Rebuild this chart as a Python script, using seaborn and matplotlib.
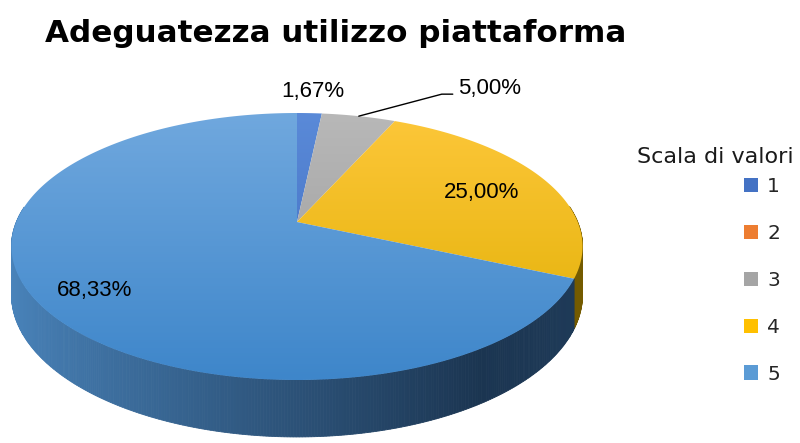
import numpy as np
import matplotlib
matplotlib.use("Agg")
import matplotlib.pyplot as plt
from matplotlib.patches import Polygon, Patch
from matplotlib.colors import LinearSegmentedColormap, to_rgb
import seaborn as sns

# ---------------- data ----------------
title = "Adeguatezza utilizzo piattaforma"
legend_title = "Scala di valori"
categories = ["1", "2", "3", "4", "5"]
percentages = [1.67, 0.00, 5.00, 25.00, 68.33]
base_colors = ["#4472C4", "#ED7D31", "#A5A5A5", "#FFC000", "#5B9BD5"]
top_colors = ["#5a8ad8", "#f28c48", "#b8b8b8", "#fdc73a", "#70a8de"]
bottom_colors = ["#3c68bc", "#d86a20", "#979797", "#dfae00", "#3e86ca"]
side_light = ["#3a5fa8", "#c86020", "#8a8a8a", "#c89a00", "#4a85bd"]
side_dark = ["#1a2c50", "#5a2a0a", "#444444", "#6e5600", "#1b3551"]

sns.set_theme(style="white")
plt.rcParams["font.family"] = ["DejaVu Sans"]

fig = plt.figure(figsize=(8.0, 4.43), dpi=100)
ax = fig.add_axes([0, 0, 1, 1])

# --- 3D perspective projection of the unit disc (layout constants) ---
CX, CY = 297.0, 222.0   # apex of the pie
A, B = 280.7, 129.0     # horizontal / vertical scale
K = 0.1835              # perspective strength
D = 46.5                # thickness


def proj(r, t, z=0.0):
    u = r * np.cos(t)
    v = r * np.sin(t)
    w = 1.0 + K * v
    return CX + A * u / w, CY - B * v / w + D * z / w


def fmt(p):
    return f"{p:.2f}%".replace(".", ",")


# slice angles (clockwise from 12 o'clock)
tot = sum(percentages)
cum = np.concatenate([[0.0], np.cumsum(percentages)])
starts = np.deg2rad(90 - 360 * cum[:-1] / tot)
ends = np.deg2rad(90 - 360 * cum[1:] / tot)

Y_TOP, Y_BOT = proj(1, np.pi / 2)[1], proj(1, -np.pi / 2)[1]

# ---- side walls (drawn back to front) ----
strips = []
for i, p in enumerate(percentages):
    if p <= 0:
        continue
    n = max(int(abs(np.rad2deg(starts[i] - ends[i])) * 2), 2)
    ts = np.linspace(starts[i], ends[i], n + 1)
    cl = np.array(to_rgb(side_light[i]))
    cd = np.array(to_rgb(side_dark[i]))
    for a0, a1 in zip(ts[:-1], ts[1:]):
        tm = 0.5 * (a0 + a1)
        if np.sin(tm) > 0.12:
            continue
        s = np.interp(np.cos(tm), [-1.0, 0.55, 1.0], [0.0, 1.0, 0.92])
        col = np.clip(cl * (1 - s) + cd * s, 0, 1)
        x0, y0 = proj(1, a0)
        x1, y1 = proj(1, a1)
        x2, y2 = proj(1, a1, 1)
        x3, y3 = proj(1, a0, 1)
        strips.append((np.sin(tm), [(x0, y0), (x1, y1), (x2, y2), (x3, y3)], col))
strips.sort(key=lambda s: -s[0])
for _, pts, col in strips:
    ax.add_patch(Polygon(pts, closed=True, facecolor=col, edgecolor=col,
                         linewidth=0.6, zorder=2))

# ---- top faces with vertical gradient ----
grad = np.linspace(0, 1, 256)[:, None]
for i, p in enumerate(percentages):
    if p <= 0:
        continue
    n = max(int(abs(np.rad2deg(starts[i] - ends[i])) * 2), 4)
    ts = np.linspace(starts[i], ends[i], n + 1)
    xs, ys = proj(1, ts)
    pts = [(CX, CY)] + list(zip(xs, ys))
    poly = Polygon(pts, closed=True, facecolor="none", edgecolor="none", zorder=3)
    ax.add_patch(poly)
    cmap = LinearSegmentedColormap.from_list(f"g{i}", [top_colors[i], bottom_colors[i]])
    im = ax.imshow(grad, extent=(0, 800, Y_BOT, Y_TOP), cmap=cmap, aspect="auto",
                   zorder=3, interpolation="bilinear")
    im.set_clip_path(poly)

# ---- data labels ----
lab_font = dict(family=["Liberation Sans", "DejaVu Sans"], fontsize=16,
                color="black", zorder=6)
mids = 0.5 * (starts + ends)
label_r = {0: 1.25, 3: 0.70, 4: 0.80}
label_off = {0: (1, 1), 3: (9, 1), 4: (2, 7)}
for i, p in enumerate(percentages):
    if p <= 0:
        continue
    if i in label_r:
        x, y = proj(label_r[i], mids[i])
        dx, dy = label_off[i]
        ax.text(x + dx, y + dy, fmt(p), ha="center", va="center", **lab_font)
    else:
        sx, sy = proj(1, mids[i])
        kx, ky = sx + 83, sy - 22
        ex, ey = kx + 11, ky
        ax.plot([sx, kx, ex], [sy, ky, ey], color="black", lw=1.0, zorder=5)
        ax.text(ex + 5, ey - 6, fmt(p), ha="left", va="center", **lab_font)

# ---- title ----
fig.text(45 / 800, 1 - 33 / 443, title, fontsize=22.3, fontweight="bold",
         ha="left", va="center", color="black")

# ---- legend ----
handles = [Patch(facecolor=c, edgecolor="none") for c in base_colors]
fig.text(715 / 800, 1 - 157 / 443, legend_title, fontsize=16, ha="center",
         va="center", color="#1a1a1a")
ax.legend(handles, categories, loc="upper left", bbox_to_anchor=(744, 177),
          bbox_transform=ax.transData, frameon=False, fontsize=14.5,
          handlelength=0.7, handleheight=0.7, handletextpad=0.45,
          labelspacing=1.385, borderpad=0, borderaxespad=0)

ax.set_xlim(0, 800)
ax.set_ylim(443, 0)
ax.axis("off")
fig.savefig("out.png", dpi=100)
